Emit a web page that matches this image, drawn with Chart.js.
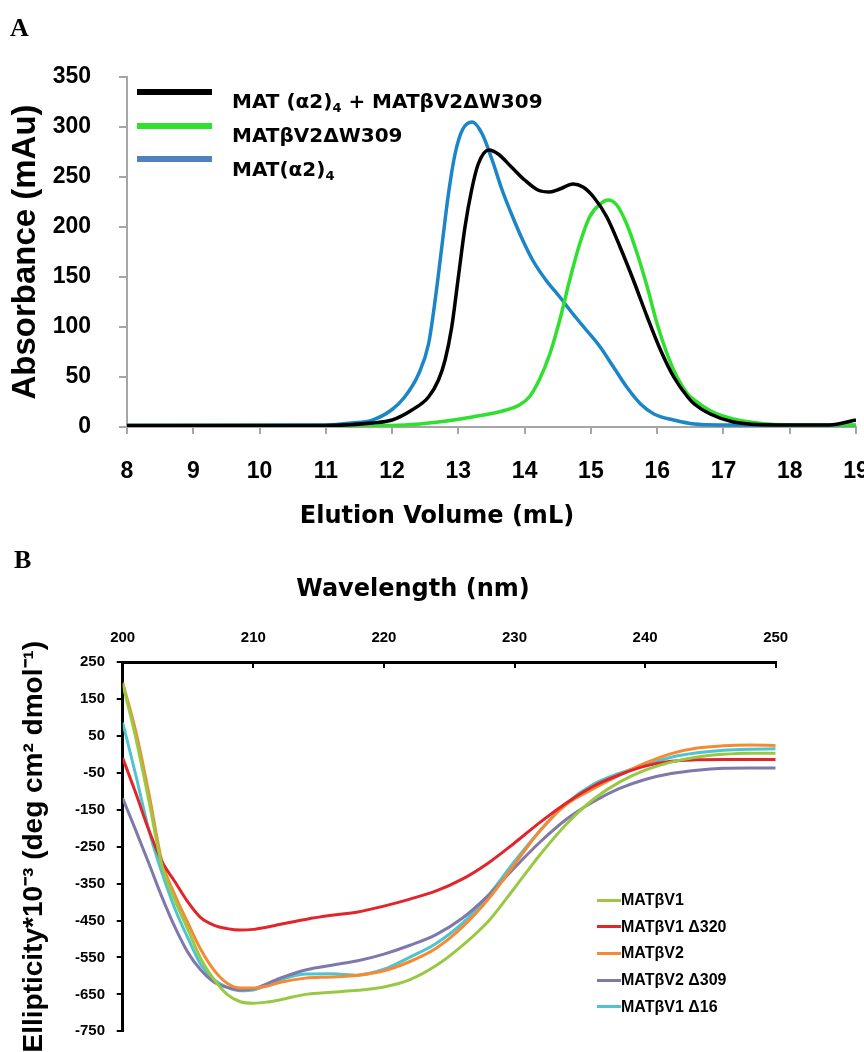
<!DOCTYPE html>
<html>
<head>
<meta charset="utf-8">
<script src="https://cdn.jsdelivr.net/npm/chart.js@4/dist/chart.umd.min.js"></script>
<style>
html, body { margin: 0; padding: 0; background: #fff; overflow: hidden; }
#wrap { position: relative; width: 864px; height: 1052px; overflow: hidden; background: #fff; }
#chartA { position: absolute; left: 0; top: 0; }
#chartB { position: absolute; left: 0; top: 540px; }
.letter { position: absolute; font: bold 26px "Liberation Serif", serif; line-height: 26px; color: #000; }
.swA { position: absolute; left: 137px; width: 75px; height: 6px; }
.txtA { position: absolute; left: 232px; font: bold 20px "DejaVu Sans", sans-serif; line-height: 20px; white-space: nowrap; color: #000; }
.txtA sub { font-size: 13px; vertical-align: -4px; line-height: 0; }
.rowB { position: absolute; left: 597px; height: 20px; display: flex; align-items: center; font: bold 16px "Liberation Sans", sans-serif; white-space: nowrap; color: #000; }
.swB { display: inline-block; width: 24px; height: 3px; }
</style>
</head>
<body>
<div id="wrap">
  <canvas id="chartA" width="874" height="540"></canvas>
  <canvas id="chartB" width="826" height="512"></canvas>
  <div class="letter" style="left:10px; top:15px">A</div>
  <div class="letter" style="left:14px; top:547px">B</div>
  <div id="legendA"></div>
  <div id="legendB"></div>
</div>
<script>
// ---- Panel A : elution profiles ----
const volMix   = [8, 11, 11.7, 12, 12.3, 12.55, 12.7, 12.8, 12.9, 13.0, 13.1, 13.2, 13.3, 13.46, 13.6, 13.8, 14.0, 14.2, 14.38, 14.53, 14.73, 14.88, 15.04, 15.24, 15.44, 15.64, 15.85, 16.05, 16.25, 16.46, 16.56, 16.8, 17.15, 17.8, 18.6, 19]
const absMix   = [1.5, 1.5, 4, 7, 17, 30, 47, 67, 100, 150, 200, 237, 263, 277, 273, 260, 247, 237, 235, 238, 243, 240, 230, 210, 180, 147, 110, 77, 50, 30, 23, 13, 5, 2, 2, 7]
const volBeta  = [8, 11.69, 12.19, 12.7, 13.21, 13.72, 13.92, 14.07, 14.22, 14.38, 14.53, 14.68, 14.83, 14.98, 15.14, 15.26, 15.39, 15.54, 15.7, 15.85, 16.0, 16.15, 16.3, 16.46, 16.56, 16.81, 17.15, 17.66, 18.2, 19]
const absBeta  = [1.5, 1.5, 2, 5, 10, 17, 22, 30, 47, 73, 107, 147, 183, 210, 223, 227, 222, 203, 173, 140, 103, 73, 50, 33, 27, 16, 8, 3, 2, 2]
const volAlpha = [8, 11, 11.4, 11.69, 11.99, 12.19, 12.4, 12.55, 12.65, 12.75, 12.85, 12.95, 13.06, 13.21, 13.36, 13.51, 13.66, 13.82, 13.97, 14.12, 14.32, 14.53, 14.73, 14.93, 15.14, 15.34, 15.54, 15.75, 15.95, 16.25, 16.56, 17, 19]
const absAlpha = [1.5, 2, 4, 6.7, 17, 30, 53, 83, 127, 180, 233, 273, 297, 305, 293, 267, 237, 210, 187, 167, 147, 130, 113, 97, 80, 60, 40, 23, 13, 7, 3, 2, 1.5]

const labelsA  = ["MAT (α2)4 + MATβV2ΔW309", "MATβV2ΔW309", "MAT(α2)4"]
const colorsA  = ["#000000", "#2fe02f", "#1a86c8"]
const swatchA  = ["#000000", "#2fe02f", "#4f81bd"]

// ---- Panel B : CD spectra ----
const wavelength = [200, 201, 202, 203, 204, 205, 206, 207, 208, 209, 210, 211, 212, 214, 216, 218, 220, 222, 224, 226, 228, 230, 232, 234, 236, 238, 240, 242, 244, 246, 248, 250]
const elV1     = [190, 45, -125, -300, -395, -475, -555, -610, -650, -670, -674, -671, -665, -650, -644, -639, -630, -610, -572, -518, -452, -362, -270, -188, -123, -76, -43, -21, -7, 0, 3, 3]
const elV1d320 = [-10, -105, -205, -290, -345, -400, -443, -463, -472, -476, -474, -468, -461, -447, -436, -427, -411, -392, -370, -338, -294, -240, -183, -131, -87, -56, -32, -19, -15, -14, -14, -14]
const elV2     = [194, 63, -105, -289, -381, -457, -530, -585, -620, -633, -633, -628, -618, -606, -603, -598, -586, -561, -525, -468, -392, -298, -205, -135, -94, -57, -24, 2, 17, 23, 25, 24]
const elV2d309 = [-119, -206, -295, -386, -468, -537, -585, -617, -631, -638, -635, -622, -607, -584, -571, -559, -541, -517, -488, -444, -382, -307, -236, -175, -129, -93, -68, -52, -43, -38, -37, -37]
const elV1d16  = [86, -56, -205, -320, -418, -498, -570, -610, -631, -640, -638, -626, -611, -595, -594, -598, -582, -549, -512, -458, -382, -290, -205, -132, -82, -52, -29, -8, 4, 11, 14, 15]

const labelsB  = ["MATβV1", "MATβV1 Δ320", "MATβV2", "MATβV2 Δ309", "MATβV1 Δ16"]
const colorsB  = ["#99c944", "#e1252a", "#f58a33", "#7e78ab", "#4fc4d0"]

const pontos = (xs, ys) => xs.map((x, i) => ({ x: x, y: ys[i] }))
const cinza  = "#a6a6a6"

const linha = function (label, data, color, width, bg) {
    return { label: label, data: data, borderColor: color, backgroundColor: bg || color,
             borderWidth: width, pointRadius: 0, fill: false, cubicInterpolationMode: "monotone" }
}

new Chart(document.getElementById("chartA"), {
    type: "line",
    data: { datasets: [
        linha(labelsA[0], pontos(volMix, absMix), colorsA[0], 3.5, swatchA[0]),
        linha(labelsA[1], pontos(volBeta, absBeta), colorsA[1], 3.5, swatchA[1]),
        linha(labelsA[2], pontos(volAlpha, absAlpha), colorsA[2], 3.5, swatchA[2])
    ]},
    options: {
        responsive: false, animation: false,
        layout: { padding: { top: 77, right: 0, left: 0, bottom: 0 } },
        plugins: {
            legend: { display: false }, tooltip: { enabled: false },
            title: { display: true, position: "bottom", text: "Elution Volume (mL)", color: "#000",
                     font: { family: "DejaVu Sans", size: 24, weight: "bold", lineHeight: 1.2 },
                     padding: { top: 0, bottom: 8.6 } }
        },
        scales: {
            x: {
                type: "linear", min: 8, max: 19,
                afterFit: (s) => { s.height = 75.6; s.paddingRight = 18 },
                ticks: { stepSize: 1, autoSkip: false, maxRotation: 0, padding: 24, color: "#000",
                         font: { family: "Liberation Sans", size: 23, weight: "bold" } },
                grid: { drawOnChartArea: false, tickLength: 7, color: cinza, lineWidth: 2 },
                border: { color: cinza, width: 2 }
            },
            y: {
                min: 0, max: 350,
                afterFit: (s) => { s.width = 127 },
                ticks: { stepSize: 50, padding: 28, color: "#000",
                         font: { family: "Liberation Sans", size: 23, weight: "bold" } },
                grid: { drawOnChartArea: false, tickLength: 8, color: cinza, lineWidth: 2 },
                border: { color: cinza, width: 2 },
                title: { display: true, text: "Absorbance (mAu)", color: "#000",
                         font: { family: "Liberation Sans", size: 33, weight: "bold", lineHeight: 1.2 },
                         padding: { top: 6, bottom: 0 } }
            }
        }
    }
})

new Chart(document.getElementById("chartB"), {
    type: "line",
    data: { datasets: [
        linha(labelsB[0], pontos(wavelength, elV1), colorsB[0], 3),
        linha(labelsB[1], pontos(wavelength, elV1d320), colorsB[1], 3),
        linha(labelsB[2], pontos(wavelength, elV2), colorsB[2], 3),
        linha(labelsB[3], pontos(wavelength, elV2d309), colorsB[3], 3),
        linha(labelsB[4], pontos(wavelength, elV1d16), colorsB[4], 3)
    ]},
    options: {
        responsive: false, animation: false,
        layout: { padding: { top: 0, right: 0, left: 0, bottom: 7.7 } },
        plugins: {
            legend: { display: false }, tooltip: { enabled: false },
            title: { display: true, position: "top", text: "Wavelength (nm)", color: "#000",
                     font: { family: "DejaVu Sans", size: 24, weight: "bold", lineHeight: 1.2 },
                     padding: { top: 35.6, bottom: 0 } }
        },
        scales: {
            x: {
                type: "linear", position: "top", min: 200, max: 250,
                afterFit: (s) => { s.height = 57.6; s.paddingRight = 50.3 },
                ticks: { stepSize: 10, autoSkip: false, maxRotation: 0, padding: 21, color: "#000",
                         font: { family: "Liberation Sans", size: 15, weight: "bold" } },
                grid: { drawOnChartArea: false, tickLength: -6, color: "#000", lineWidth: 2 },
                border: { color: "#000", width: 3 }
            },
            y: {
                min: -750, max: 250,
                afterFit: (s) => { s.width = 122.7 },
                ticks: { stepSize: 100, padding: 11.7, color: "#000",
                         font: { family: "Liberation Sans", size: 15, weight: "bold" } },
                grid: { drawOnChartArea: false, tickLength: 6, color: "#000", lineWidth: 2 },
                border: { color: "#000", width: 3 },
                title: { display: true, text: "Ellipticity*10⁻³ (deg cm² dmol⁻¹)", color: "#000",
                         font: { family: "Liberation Sans", size: 28, weight: "bold", lineHeight: 1.2 },
                         padding: { top: 17, bottom: 0 } }
            }
        }
    }
})

// legendas em HTML (subscrito no painel A)
const legA = document.getElementById("legendA")
labelsA.forEach((lab, i) => {
    const sw = document.createElement("div")
    sw.className = "swA"
    sw.style.top = (89 + i * 33.6) + "px"
    sw.style.background = swatchA[i]
    legA.appendChild(sw)
    const tx = document.createElement("div")
    tx.className = "txtA"
    tx.style.top = (91.4 + i * 33.6) + "px"
    tx.innerHTML = lab.replace(/\)4/g, ")<sub>4</sub>")
    legA.appendChild(tx)
})

const legB = document.getElementById("legendB")
labelsB.forEach((lab, i) => {
    const row = document.createElement("div")
    row.className = "rowB"
    row.style.top = (890 + i * 26.7) + "px"
    row.innerHTML = '<span class="swB" style="background:' + colorsB[i] + '"></span>' + lab
    legB.appendChild(row)
})
</script>
</body>
</html>
